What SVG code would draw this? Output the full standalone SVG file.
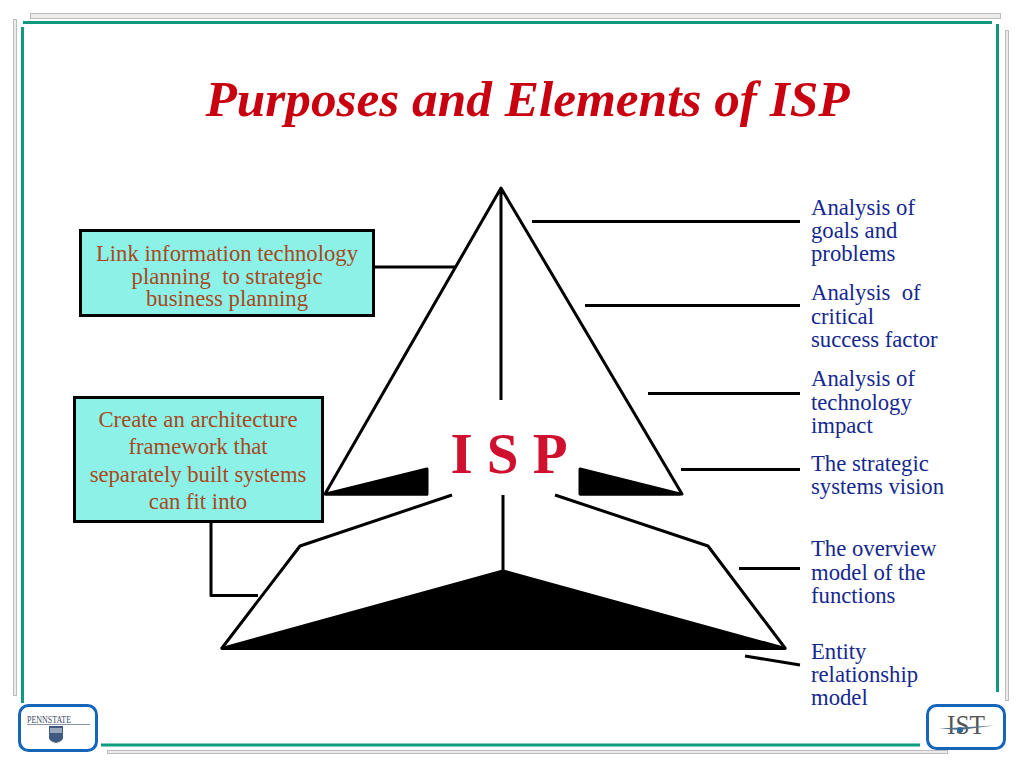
<svg xmlns="http://www.w3.org/2000/svg" width="1024" height="768" viewBox="0 0 1024 768">
<style>
.ln{fill:none;stroke:#000;stroke-width:3;stroke-linejoin:round}
.solid{fill:#000;stroke:#000;stroke-width:3;stroke-linejoin:round}
.teal{fill:none;stroke:#0f9a80;stroke-width:3}
.frame{fill:#ececec;stroke:#bcbcbc;stroke-width:1}
.box{fill:#8cf2e8;stroke:#000;stroke-width:3}
.box-t{font-family:"Liberation Serif",serif;font-size:22.700px;fill:#a8481c;text-anchor:middle;white-space:pre}
.lab{font-family:"Liberation Serif",serif;font-size:22.700px;fill:#14288f;white-space:pre}
.logo{fill:#fff;stroke:#1565b8;stroke-width:3}
</style>
<rect width="1024" height="768" fill="#fff"/>
<g id="frame">
<rect class="frame" x="30.500" y="13.500" width="970" height="5"/>
<rect class="frame" x="13.500" y="19.500" width="3" height="676"/>
<rect class="frame" x="1005.500" y="30.500" width="3" height="670"/>
<rect class="frame" x="107.500" y="750.500" width="840" height="3"/>
<path class="teal" d="M23 22.500H992M22.500 27V703M997.500 24V692M101 745H920"/>
</g>
<text id="title" x="527.500" y="116" text-anchor="middle" font-family="Liberation Serif,serif" font-size="51.300" font-weight="bold" font-style="italic" fill="#c8000f">Purposes and Elements of ISP</text>
<g id="connectors">
<path class="ln" d="M374 267H456M532 221.500H800M585 305.500H800M648 393.500H800M681 469.500H800M739 568.500H800M745 656L800 665M211 523V595.500H258"/>
</g>
<g id="pyramid-top">
<path class="ln" d="M428 494H325L501 188L682 494H580M501 188V400"/>
<path class="solid" d="M326 494L427 469V494Z"/>
<path class="solid" d="M580 469L680 494H580Z"/>
</g>
<g id="pyramid-base">
<path class="ln" d="M452 495L300 546L222 648H785L708 546L555 495M503 495V571"/>
<path class="solid" d="M222 648.500L503 571L785 648.500Z"/>
</g>
<g id="isp-label"><text x="509" y="473" text-anchor="middle" font-family="Liberation Serif,serif" font-size="57" font-weight="bold" fill="#d0102f" style="white-space:pre">I S P</text></g>
<g id="box-link">
<rect class="box" x="80.500" y="230.500" width="293" height="85"/>
<text class="box-t"><tspan x="227" y="261">Link information technology</tspan><tspan x="227" y="283.500">planning  to strategic</tspan><tspan x="227" y="305.500">business planning</tspan></text>
</g>
<g id="box-architecture">
<rect class="box" x="74.500" y="397.500" width="248" height="124"/>
<text class="box-t"><tspan x="198" y="427">Create an architecture</tspan><tspan x="198" y="454">framework that</tspan><tspan x="198" y="482">separately built systems</tspan><tspan x="198" y="509">can fit into</tspan></text>
</g>
<g id="label-goals"><text class="lab"><tspan x="811" y="215">Analysis of</tspan><tspan x="811" y="238">goals and</tspan><tspan x="811" y="261">problems</tspan></text></g>
<g id="label-csf"><text class="lab"><tspan x="811" y="300">Analysis  of</tspan><tspan x="811" y="324">critical</tspan><tspan x="811" y="347">success factor</tspan></text></g>
<g id="label-tech"><text class="lab"><tspan x="811" y="386">Analysis of</tspan><tspan x="811" y="410">technology</tspan><tspan x="811" y="433">impact</tspan></text></g>
<g id="label-vision"><text class="lab"><tspan x="811" y="471">The strategic</tspan><tspan x="811" y="494">systems vision</tspan></text></g>
<g id="label-overview"><text class="lab"><tspan x="811" y="556">The overview</tspan><tspan x="811" y="580">model of the</tspan><tspan x="811" y="603">functions</tspan></text></g>
<g id="label-entity"><text class="lab"><tspan x="811" y="659">Entity</tspan><tspan x="811" y="682">relationship</tspan><tspan x="811" y="705">model</tspan></text></g>
<g id="logo-psu">
<rect class="logo" x="19.500" y="705.500" width="77" height="45" rx="9"/>
<text x="27" y="723" font-family="Liberation Serif,serif" font-size="10" fill="#44506a" textLength="44" lengthAdjust="spacingAndGlyphs">PENNSTATE</text>
<path d="M27 724.500H90" stroke="#8a94a6" stroke-width="1"/>
<path d="M49 726H63V738Q63 741 56 743Q49 741 49 738Z" fill="#3f5a80"/>
<path d="M50 728H62V733H50Z" fill="#9aa8bc"/>
</g>
<g id="logo-ist">
<rect class="logo" x="927.500" y="705.500" width="77" height="43" rx="9"/>
<text x="947" y="734" font-family="Liberation Serif,serif" font-size="27" fill="#555" textLength="38" lengthAdjust="spacingAndGlyphs">IST</text>
<path d="M939 728.500L960 727.500L994 725.500L960 730Z" fill="#55708a"/>
<circle cx="960" cy="730" r="3" fill="#2a6a9a"/>
</g>
</svg>
